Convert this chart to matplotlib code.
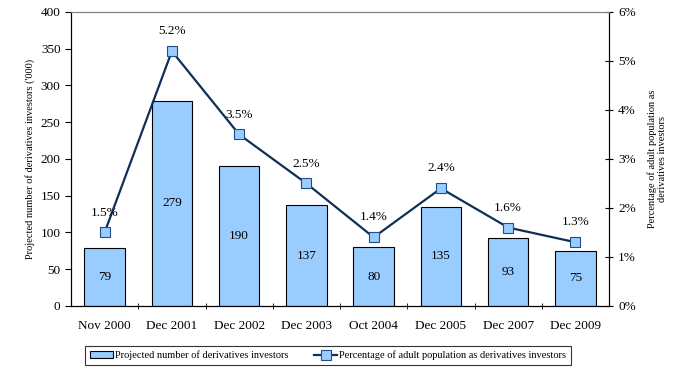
import numpy as np
import matplotlib
matplotlib.use("Agg")
import matplotlib.pyplot as plt
from matplotlib.ticker import FuncFormatter

"""data"""

periods   = ["Nov 2000", "Dec 2001", "Dec 2002", "Dec 2003", "Oct 2004", "Dec 2005", "Dec 2007", "Dec 2009"]
investors = [79, 279, 190, 137, 80, 135, 93, 75]
pct_adult = [1.5, 5.2, 3.5, 2.5, 1.4, 2.4, 1.6, 1.3]

plt.rcParams['font.family'] = ['Liberation Serif', 'DejaVu Serif']

"""plot"""

fig = plt.figure(figsize=(6.76, 3.74), dpi=100)
ax1 = fig.add_axes([0.105, 0.182, 0.796, 0.786])
ax2 = ax1.twinx()

x = np.arange(len(periods))
bars = ax1.bar(x, investors, width=0.6, color='#99CCFF', edgecolor='black', linewidth=0.8,
               label='Projected number of derivatives investors', zorder=2)
for xi, v in zip(x, investors):
    ax1.text(xi, v / 2., str(v), ha='center', va='center', fontsize=9.5)

line, = ax2.plot(x, pct_adult, color='#0F2F57', linewidth=1.6, marker='s', markersize=7,
                 markerfacecolor='#99CCFF', markeredgecolor='#1F4E8C', markeredgewidth=0.8,
                 label='Percentage of adult population as derivatives investors', zorder=3)
for xi, p in zip(x, pct_adult):
    ax2.annotate("{:.1f}%".format(p), (xi, p), xytext=(0, 10), textcoords='offset points',
                 ha='center', va='bottom', fontsize=9.5)

"""detail"""

ax1.set_xlim(-0.5, len(periods) - 0.5)
ax1.set_ylim(0, 400)
ax1.set_yticks(np.arange(0, 401, 50))
ax1.set_xticks(x)
ax1.set_xticklabels(periods, fontsize=9.5)
ax1.set_xticks(np.arange(0.5, len(periods) - 1, 1.0), minor=True)
ax1.tick_params(axis='x', which='major', length=0, pad=10)
ax1.tick_params(axis='x', which='minor', length=5, direction='inout')
ax1.tick_params(axis='y', labelsize=9.5, length=4, direction='out')
ax1.set_ylabel("Projected number of derivatives investors ('000)", fontsize=7.5)

ax2.set_ylim(0, 6)
ax2.set_yticks(np.arange(0, 7, 1))
ax2.yaxis.set_major_formatter(FuncFormatter(lambda v, pos: "{:.0f}%".format(v)))
ax2.tick_params(axis='y', labelsize=9.5, length=6, direction='inout')
ax2.set_ylabel("Percentage of adult population as\nderivatives investors", fontsize=7.5, labelpad=8)

for ax in (ax1, ax2):
    ax.spines['top'].set_color('gray')
    ax.spines['top'].set_linewidth(0.8)
    ax.spines['left'].set_linewidth(0.8)
    ax.spines['right'].set_linewidth(0.8)
    ax.spines['bottom'].set_linewidth(0.8)

leg = fig.legend([bars, line], [bars.get_label(), line.get_label()], loc='lower center',
                 bbox_to_anchor=(0.485, 0.01), ncol=2, fontsize=7.5, frameon=True, fancybox=False,
                 edgecolor='black', handlelength=2.2, handletextpad=0.2, columnspacing=2.5,
                 borderpad=0.45)
leg.get_frame().set_linewidth(0.8)

"""save"""

plt.savefig('out.png', dpi=100)
